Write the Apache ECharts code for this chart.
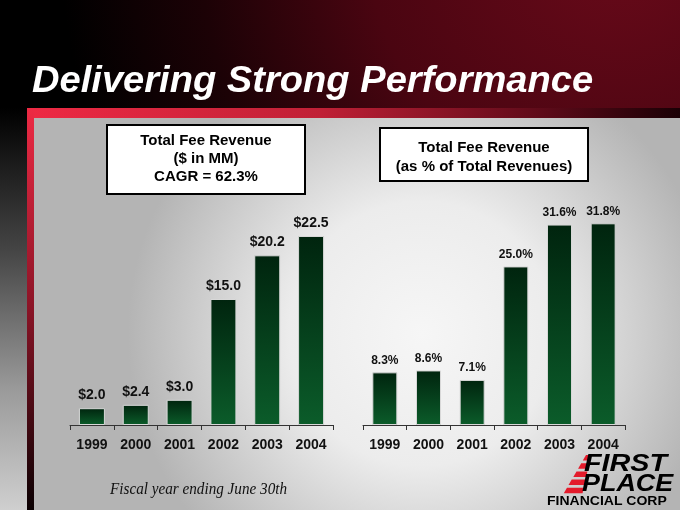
<!DOCTYPE html>
<html><head><meta charset="utf-8">
<script src="https://cdn.jsdelivr.net/npm/echarts@6/dist/echarts.min.js"></script>
<style>html,body{margin:0;padding:0;background:#000}#c{width:680px;height:510px}</style>
</head><body><div id="c"></div>
<script>
const years = ['1999','2000','2001','2002','2003','2004'];
const feeRevenue = [2.0, 2.4, 3.0, 15.0, 20.2, 22.5];
const feePct = [8.3, 8.6, 7.1, 25.0, 31.6, 31.8];
const title = 'Delivering Strong Performance';
const leftBoxLines = ['Total Fee Revenue', '($ in MM)', 'CAGR = 62.3%'];
const rightBoxLines = ['Total Fee Revenue', '(as % of Total Revenues)'];
const footnote = 'Fiscal year ending June 30th';

const FONT = '"Liberation Sans", Arial, sans-serif';
const barGrad = new echarts.graphic.LinearGradient(0,0,0,1,[{offset:0,color:'#00240e'},{offset:1,color:'#0b5c2a'}]);

const stripes = [];
for (let i = 0; i < 5; i++) {
  const y0 = 455 + i*8.2, y1 = y0 + 5.5;
  const lx = y => 586 - (y-455)*0.58;
  const rx = y => 591 - (y-455)*0.22;
  stripes.push({type:'polygon', z:10, shape:{points:[[lx(y0),y0],[rx(y0),y0],[rx(y1),y1],[lx(y1),y1]]}, style:{fill:'#e31b2b'}});
}

const chart = echarts.init(document.getElementById('c'), null, {renderer:'canvas'});
chart.setOption({
  animation:false,
  backgroundColor:'#000',
  graphic:[
    {type:'rect', z:-10, shape:{x:0,y:0,width:680,height:510}, style:{fill:'#000'}},
    {type:'rect', z:-9, shape:{x:0,y:0,width:680,height:130}, style:{fill:new echarts.graphic.RadialGradient(620,-60,560,[{offset:0,color:'#6a0a1a'},{offset:0.45,color:'#4a0511'},{offset:0.75,color:'#1c0206'},{offset:1,color:'#000'}], true)}},
    {type:'rect', z:-9, shape:{x:0,y:108,width:27,height:402}, style:{fill:new echarts.graphic.LinearGradient(0,0,0,1,[{offset:0,color:'#000'},{offset:0.35,color:'#444'},{offset:0.7,color:'#9a9a9a'},{offset:1,color:'#cfcfcf'}])}},
    {type:'rect', z:-8, shape:{x:27,y:108,width:653,height:10}, style:{fill:new echarts.graphic.LinearGradient(0,0,1,0,[{offset:0,color:'#ee2a44'},{offset:0.45,color:'#c02036'},{offset:0.8,color:'#5a0a18'},{offset:1,color:'#1a0005'}])}},
    {type:'rect', z:-8, shape:{x:27,y:108,width:7,height:402}, style:{fill:new echarts.graphic.LinearGradient(0,0,0,1,[{offset:0,color:'#ee2a44'},{offset:0.5,color:'#8a1426'},{offset:1,color:'#0a0002'}])}},
    {type:'rect', z:-7, shape:{x:34,y:118,width:646,height:392}, style:{fill:new echarts.graphic.RadialGradient(0.6,0.55,0.75,[{offset:0,color:'#f6f6f6'},{offset:0.45,color:'#ececec'},{offset:1,color:'#b4b4b4'}])}},
    {type:'text', z:10, x:32, y:82, scaleX:1.03, style:{text:title, fill:'#fff', font:'italic bold 37px '+FONT, verticalAlign:'middle'}},
    {type:'rect', z:5, shape:{x:107,y:125,width:198,height:69}, style:{fill:'#fff', stroke:'#000', lineWidth:2}},
    {type:'text', z:6, x:206, y:159, style:{text:leftBoxLines.join('\n'), fill:'#000', font:'bold 15px '+FONT, align:'center', verticalAlign:'middle', lineHeight:18}},
    {type:'rect', z:5, shape:{x:380,y:128,width:208,height:53}, style:{fill:'#fff', stroke:'#000', lineWidth:2}},
    {type:'text', z:6, x:484, y:157, style:{text:rightBoxLines.join('\n'), fill:'#000', font:'bold 15px '+FONT, align:'center', verticalAlign:'middle', lineHeight:19}},
    {type:'text', z:6, x:110, y:490, scaleX:0.92, style:{text:footnote, fill:'#111', font:'italic 16.5px "Liberation Serif", "Times New Roman", serif', verticalAlign:'middle'}},
    ...stripes,
    {type:'text', z:10, x:584, y:465, scaleX:1.25, style:{text:'FIRST', fill:'#000', font:'italic bold 23px '+FONT, verticalAlign:'middle'}},
    {type:'text', z:10, x:582, y:485, scaleX:1.17, style:{text:'PLACE', fill:'#000', font:'italic bold 23px '+FONT, verticalAlign:'middle'}},
    {type:'text', z:10, x:547, y:502, scaleX:1.12, style:{text:'FINANCIAL CORP', fill:'#000', font:'bold 12.5px '+FONT, verticalAlign:'middle'}}
  ],
  grid:[
    {left:70, width:263, top:215, bottom:85},
    {left:363, width:262, top:203, bottom:85}
  ],
  xAxis:[0,1].map(i=>({
    type:'category', gridIndex:i, data:years,
    axisLine:{show:true, lineStyle:{color:'#333', width:1}},
    axisTick:{show:true, length:5, inside:false, lineStyle:{color:'#333', width:1}},
    axisLabel:{color:'#111', fontFamily:FONT, fontWeight:'bold', fontSize:14, margin:13}
  })),
  yAxis:[
    {type:'value', gridIndex:0, min:0, max:25, show:false, splitLine:{show:false}},
    {type:'value', gridIndex:1, min:0, max:35, show:false, splitLine:{show:false}}
  ],
  series:[
    {type:'bar', xAxisIndex:0, yAxisIndex:0, data:feeRevenue, barWidth:26,
     itemStyle:{color:barGrad, borderColor:'#d8d8d8', borderWidth:1},
     label:{show:true, position:'top', distance:6, color:'#111', fontFamily:FONT, fontWeight:'bold', fontSize:14, formatter:p=>'$'+p.value.toFixed(1)}},
    {type:'bar', xAxisIndex:1, yAxisIndex:1, data:feePct, barWidth:25,
     itemStyle:{color:barGrad, borderColor:'#d8d8d8', borderWidth:1},
     label:{show:true, position:'top', distance:6, color:'#111', fontFamily:FONT, fontWeight:'bold', fontSize:12, formatter:p=>p.value.toFixed(1)+'%'}}
  ]
});
</script></body></html>
